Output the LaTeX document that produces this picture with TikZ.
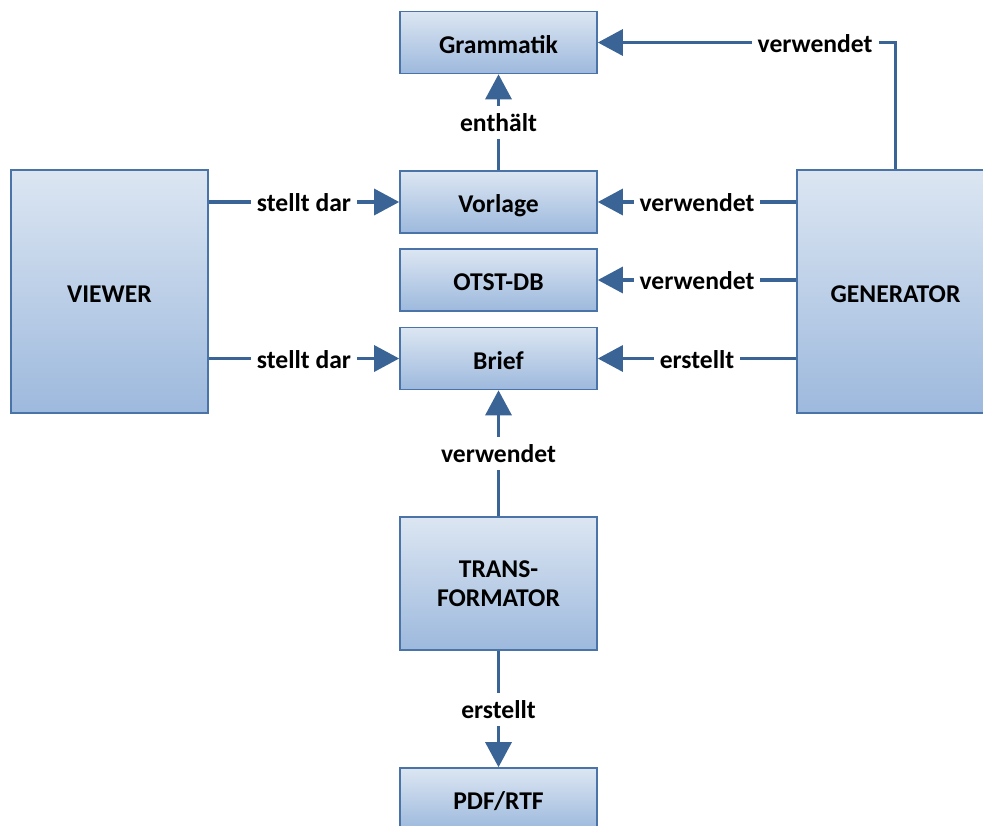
\documentclass[tikz,border=0pt]{standalone}
\usepackage{fontspec}
\setmainfont{Carlito}
\usetikzlibrary{arrows.meta}
\definecolor{boxtop}{HTML}{DCE6F2}
\definecolor{boxbot}{HTML}{9DB9DD}
\definecolor{boxline}{HTML}{4A74A8}
\definecolor{arrowc}{HTML}{3A6496}
\begin{document}
\begin{tikzpicture}[x=0.5pt,y=-0.5pt,
  font=\fontsize{12.8pt}{14.5pt}\selectfont\bfseries,
  box/.style={draw=boxline, line width=0.8pt, top color=boxtop, bottom color=boxbot,
    minimum width=98.5pt, minimum height=31pt, inner sep=0pt, align=center,
    text height=10.5pt, text depth=0pt},
  tall/.style={box, minimum height=121.5pt},
  conn/.style={draw=arrowc, line width=1.6pt, -{Triangle[width=13pt,length=12.5pt]}},
  lbl/.style={fill=white, inner sep=3pt, text=black, text height=10pt, text depth=0.5pt}]
\useasboundingbox (0,0) rectangle (983,825);
\clip (0,0) rectangle (983,825);

% boxes
\node[box] (gram) at (498.5,42.5) {Grammatik};
\node[box] (vorl) at (498.5,202) {Vorlage};
\node[box] (otst) at (498.5,280) {OTST-DB};
\node[box] (brief) at (498.5,358.5) {Brief};
\node[tall] (viewer) at (109.5,291.5) {VIEWER};
\node[tall] (gen) at (895.5,291.5) {GENERATOR};
\node[box, minimum height=66.5pt, text height=, text depth=] (trans) at (498.5,583.5)
  {\raisebox{-1.5pt}{TRANS-}\\\raisebox{-1.5pt}{FORMATOR}};
\node[box] (pdf) at (498.5,799) {PDF/RTF};

% connectors
\draw[conn] (vorl) -- node[lbl] {enthält} (gram);
\draw[conn] (gen.north) |- node[lbl, pos=0.635] {verwendet} (gram.east);
\draw[conn] (gen.west |- vorl) -- node[lbl] {verwendet} (vorl);
\draw[conn] (gen.west |- otst) -- node[lbl] {verwendet} (otst);
\draw[conn] (gen.west |- brief) -- node[lbl] {erstellt} (brief);
\draw[conn] (viewer.east |- vorl) -- node[lbl] {stellt dar} (vorl);
\draw[conn] (viewer.east |- brief) -- node[lbl] {stellt dar} (brief);
\draw[conn] (trans) -- node[lbl] {verwendet} (brief);
\draw[conn] (trans) -- node[lbl] {erstellt} (pdf);
\end{tikzpicture}
\end{document}
